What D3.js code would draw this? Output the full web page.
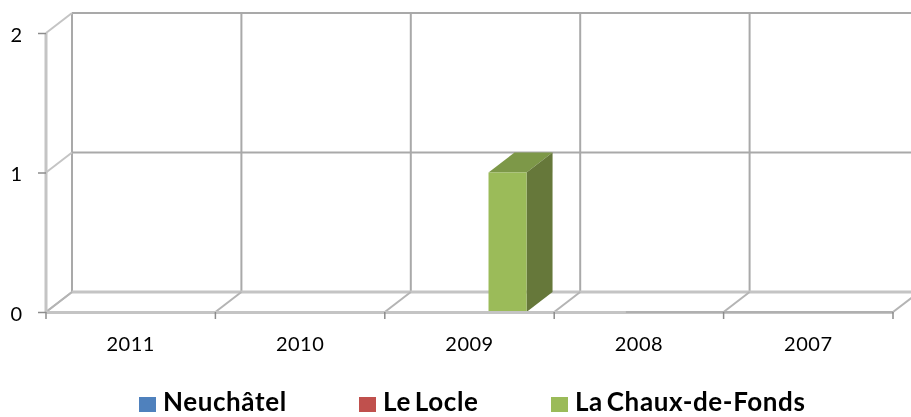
<!DOCTYPE html>
<html>
<head>
<meta charset="utf-8">
<script src="https://cdn.jsdelivr.net/npm/d3@7"></script>
<style>
  html, body { margin: 0; padding: 0; background: #fff; }
  svg { display: block; filter: blur(0.4px); }
  text { font-family: Lato, "Open Sans", sans-serif; fill: #000; }
</style>
</head>
<body>
<svg class="chart" width="911" height="417"></svg>
<script>
const years = ['2011', '2010', '2009', '2008', '2007'];
const seriesNames = ['Neuchâtel', 'Le Locle', 'La Chaux-de-Fonds'];
const neuchatel = [0, 0, 0, 0, 0];
const leLocle = [0, 0, 0, 0, 0];
const chauxDeFonds = [0, 0, 1, 0, 0];
const yTicks = [0, 1, 2];

const seriesValues = [neuchatel, leLocle, chauxDeFonds];
const colors = ['#4f81bd', '#c0504d', '#9bbb59'];
const sideColors = ['#3a6090', '#8f3b39', '#66783a'];
const topColors = ['#44709f', '#a54542', '#7d9848'];

const svg = d3.select('.chart');

//front corner of the plot, the back wall is shifted by depth
const margin = { top: 33, left: 46 };
const plotWidth = 847;
const plotHeight = 279;
const depth = { x: 26, y: -20 };

const xScale = d3.scaleBand()
    .domain(years)
    .range([margin.left, margin.left + plotWidth]);

//three bars and a gap of half a bar on both sides of a group
const seriesScale = d3.scaleBand()
    .domain(seriesNames)
    .range([0, xScale.bandwidth()])
    .paddingOuter(0.7273)
    .paddingInner(0);

const yScale = d3.scaleLinear()
    .domain([0, 2])
    .range([margin.top + plotHeight, margin.top]);

const wallColor = '#a9a9a9';
const floorColor = '#c4c4c4';
const grid = svg.append('g').attr('fill', 'none');
const edges = years.map(y => xScale(y)).concat(margin.left + plotWidth);

//back wall
grid.selectAll('.vgrid')
    .data(edges)
    .join('line')
    .attr('class', 'vgrid')
    .attr('x1', d => d + depth.x)
    .attr('x2', d => d + depth.x)
    .attr('y1', yScale(2) + depth.y)
    .attr('y2', yScale(0) + depth.y)
    .attr('stroke', wallColor)
    .attr('stroke-width', 2);

grid.selectAll('.hgrid')
    .data(yTicks)
    .join('line')
    .attr('class', 'hgrid')
    .attr('x1', margin.left + depth.x)
    .attr('x2', 911)
    .attr('y1', d => yScale(d) + depth.y)
    .attr('y2', d => yScale(d) + depth.y)
    .attr('stroke', d => d === 0 ? floorColor : wallColor)
    .attr('stroke-width', d => d === 0 ? 3 : 2);

//left wall, the slanted lines up to the back wall
grid.selectAll('.yslant')
    .data(yTicks)
    .join('line')
    .attr('class', 'yslant')
    .attr('x1', margin.left)
    .attr('x2', margin.left + depth.x)
    .attr('y1', d => yScale(d))
    .attr('y2', d => yScale(d) + depth.y)
    .attr('stroke', floorColor)
    .attr('stroke-width', 2);

grid.selectAll('.xslant')
    .data(edges)
    .join('line')
    .attr('class', 'xslant')
    .attr('x1', d => d)
    .attr('x2', d => d + depth.x)
    .attr('y1', yScale(0))
    .attr('y2', yScale(0) + depth.y)
    .attr('stroke', '#b4b4b4')
    .attr('stroke-width', 2);

grid.append('line')
    .attr('x1', margin.left)
    .attr('x2', margin.left)
    .attr('y1', yScale(2))
    .attr('y2', yScale(0))
    .attr('stroke', floorColor)
    .attr('stroke-width', 3);

//bars, a box is front, side and top
const rows = [];
seriesValues.forEach((values, s) => {
    values.forEach((v, i) => {
        if (v > 0) rows.push({ s, year: years[i], value: v });
    });
});

const bars = svg.append('g').selectAll('g')
    .data(rows)
    .join('g');

const barLeft = d => xScale(d.year) + seriesScale(seriesNames[d.s]);
const barRight = d => barLeft(d) + seriesScale.bandwidth();

bars.append('polygon')
    .attr('fill', d => topColors[d.s])
    .attr('points', d => [
        [barLeft(d), yScale(d.value)],
        [barRight(d), yScale(d.value)],
        [barRight(d) + depth.x, yScale(d.value) + depth.y],
        [barLeft(d) + depth.x, yScale(d.value) + depth.y]
    ].join(' '));

bars.append('polygon')
    .attr('fill', d => sideColors[d.s])
    .attr('points', d => [
        [barRight(d), yScale(d.value)],
        [barRight(d) + depth.x, yScale(d.value) + depth.y],
        [barRight(d) + depth.x, yScale(0) + depth.y],
        [barRight(d), yScale(0)]
    ].join(' '));

bars.append('rect')
    .attr('fill', d => colors[d.s])
    .attr('x', barLeft)
    .attr('y', d => yScale(d.value))
    .attr('width', seriesScale.bandwidth())
    .attr('height', d => yScale(0) - yScale(d.value));

//front axes on top of the bars foot
const xAxis = svg.append('g')
    .attr('transform', `translate(0, ${yScale(0)})`)
    .call(d3.axisBottom(xScale).tickSize(0).tickPadding(25));
xAxis.select('.domain').attr('stroke', floorColor).attr('stroke-width', 3);
xAxis.selectAll('text')
    .style('font-size', '20px')
    .attr('letter-spacing', '0.5');

//the zero height bars of the last years leave a darker line on the axis
svg.append('line')
    .attr('x1', xScale('2008') + seriesScale('Le Locle') + 6)
    .attr('x2', margin.left + plotWidth)
    .attr('y1', yScale(0))
    .attr('y2', yScale(0))
    .attr('stroke', '#9c9c9c')
    .attr('stroke-width', 1.2);

svg.append('g')
    .selectAll('line')
    .data(edges)
    .join('line')
    .attr('x1', d => d)
    .attr('x2', d => d)
    .attr('y1', yScale(0))
    .attr('y2', yScale(0) + 7)
    .attr('stroke', '#8c8c8c')
    .attr('stroke-width', 1.5);

const yAxis = svg.append('g')
    .attr('transform', `translate(${margin.left}, 0)`)
    .call(d3.axisLeft(yScale).tickValues(yTicks).tickFormat(d3.format('d')).tickSize(8).tickPadding(16));
yAxis.select('.domain').remove();
yAxis.selectAll('line').attr('stroke', '#8c8c8c').attr('stroke-width', 1.5);
yAxis.selectAll('text')
    .style('font-size', '20px')
    .attr('y', 2);

//legend
const legendX = [139, 359, 551];
const legend = svg.append('g').selectAll('g')
    .data(seriesNames)
    .join('g')
    .attr('transform', (d, i) => `translate(${legendX[i]}, 397)`);

legend.append('rect')
    .attr('width', 17)
    .attr('height', 15)
    .attr('fill', (d, i) => colors[i]);

legend.append('text')
    .attr('x', 24)
    .attr('y', 14)
    .style('font-size', '26px')
    .style('font-weight', 700)
    .style('word-spacing', '-3px')
    .attr('letter-spacing', '0.6')
    .text(d => d);
</script>
</body>
</html>
